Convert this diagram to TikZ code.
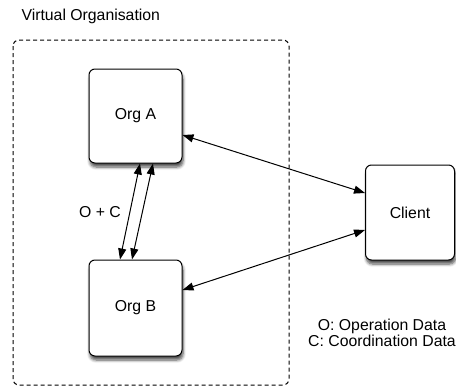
\documentclass[tikz,border=0pt]{standalone}
\usepackage{fontspec}
\setmainfont{Liberation Sans}
\usetikzlibrary{arrows.meta,shadows.blur,calc}
\begin{document}
\begin{tikzpicture}[x=1pt,y=-1pt,
  font=\fontsize{15.8}{18}\selectfont,
  orgbox/.style={draw=black, line width=1pt, fill=white, rounded corners=6pt,
    inner sep=0pt,
    blur shadow={shadow xshift=1pt, shadow yshift=-4pt, shadow blur steps=6, shadow opacity=70, shadow blur radius=3pt}},
  link/.style={line width=1pt, {Triangle[length=11pt,width=8pt]}-{Triangle[length=11pt,width=8pt]}},
  vo/.style={draw=black, line width=1pt, dash pattern=on 4pt off 3pt, rounded corners=6pt}
]
\useasboundingbox (0,0) rectangle (456,389);
\draw[vo] (13,40) rectangle (289,385);
\node[anchor=west] (title) at (18,16) {Virtual Organisation};
\node[orgbox, minimum width=93pt, minimum height=94pt] (orgA) at (135.5,116) {Org A};
\node[orgbox, minimum width=93pt, minimum height=96pt] (orgB) at (135.5,308) {Org B};
\node[orgbox, minimum width=89pt, minimum height=95pt] (client) at (410,212.5) {Client};
\draw[link] ([yshift=-19pt]orgA.east) -- ([yshift=19.5pt]client.west);
\draw[link] ([yshift=18pt]orgB.east) -- ([yshift=-17.5pt]client.west);
\draw[link] ([xshift=4.5pt]orgA.south) -- ([xshift=-15.5pt]orgB.north);
\draw[link] ([xshift=17.5pt]orgA.south) -- ([xshift=-3.5pt]orgB.north);
\node (oc) at (100,212) {O + C};
\node[align=center, inner sep=0pt] (legend) at (382,332.5) {O: Operation Data\\[-2pt]C: Coordination Data};
\end{tikzpicture}
\end{document}
